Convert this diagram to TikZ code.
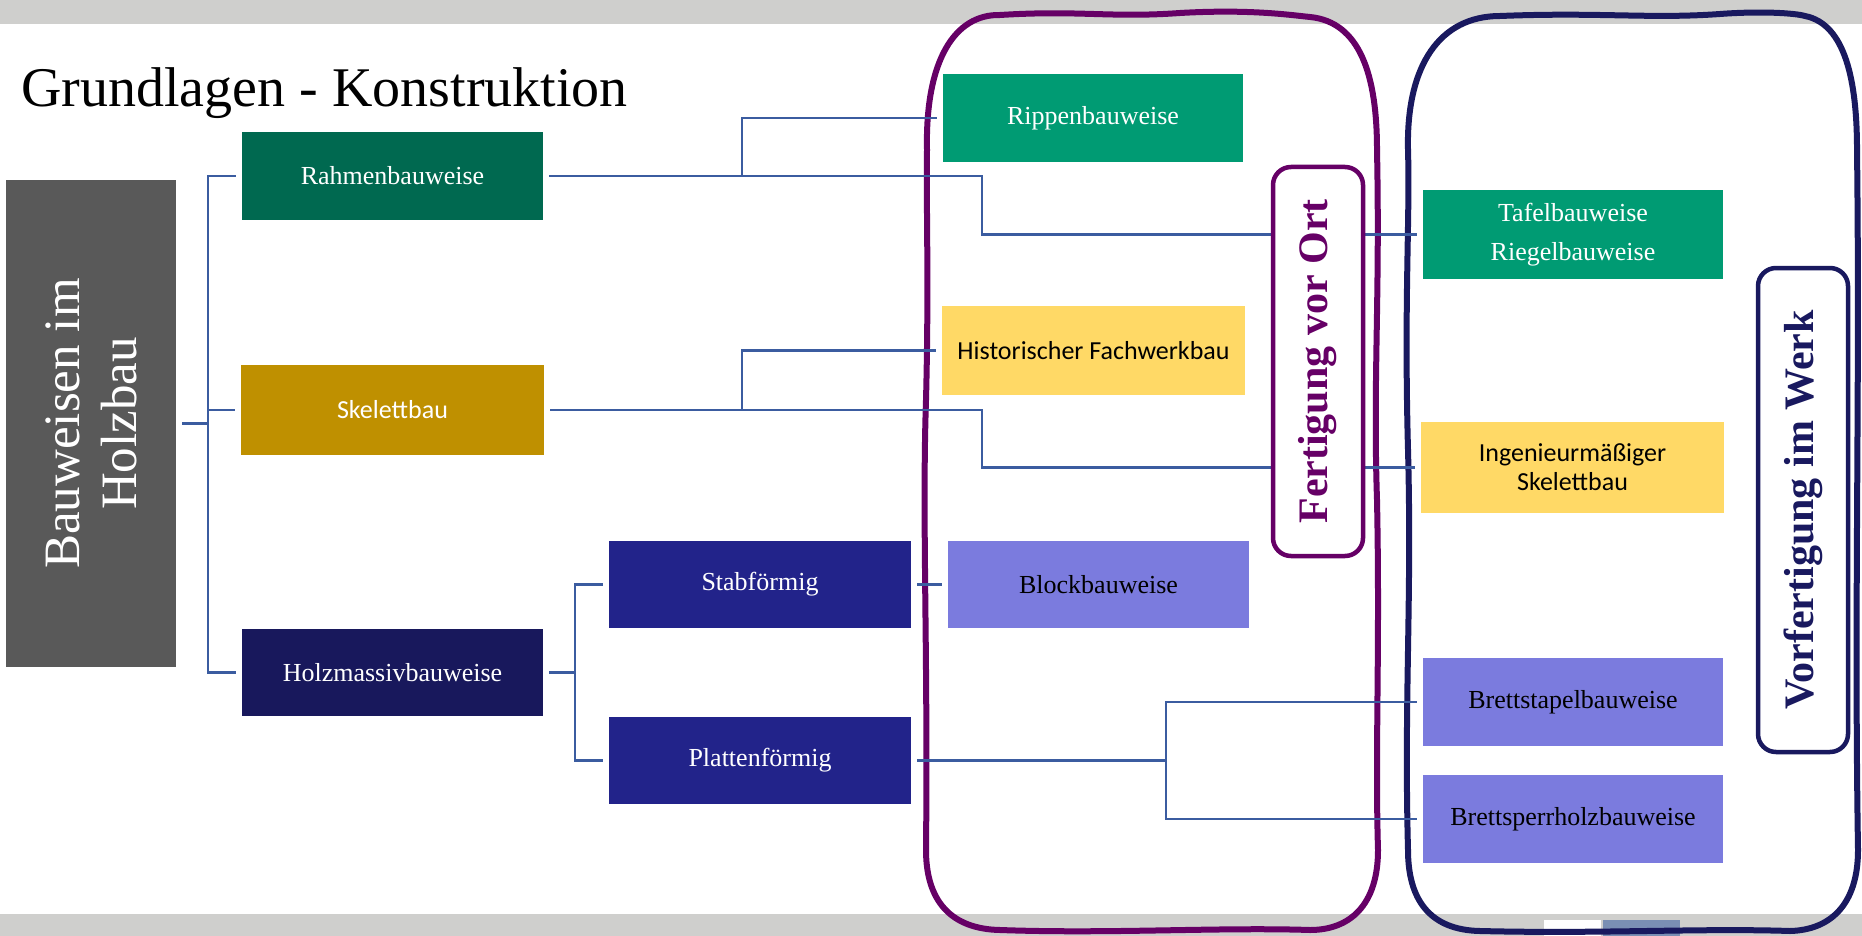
\documentclass[tikz,border=0pt]{standalone}
\usepackage{fontspec}
\setmainfont{Liberation Serif}
\newfontfamily\calib{Carlito}
\usetikzlibrary{calc}
\definecolor{bandgray}{RGB}{207,207,205}
\definecolor{cGray}{RGB}{89,89,89}
\definecolor{cDGreen}{RGB}{0,105,80}
\definecolor{cGreen}{RGB}{0,155,115}
\definecolor{cGold}{RGB}{191,144,0}
\definecolor{cYellow}{RGB}{255,217,102}
\definecolor{cNavy}{RGB}{24,24,92}
\definecolor{cBlue}{RGB}{34,35,138}
\definecolor{cLav}{RGB}{123,123,222}
\definecolor{connc}{RGB}{59,92,160}
\definecolor{cPurple}{RGB}{102,0,102}
\definecolor{cFrameNavy}{RGB}{25,25,95}
\definecolor{cSlate}{RGB}{122,143,180}
\begin{document}
\begin{tikzpicture}[x=1pt,y=-1pt,
  box/.style={rectangle, inner sep=0pt, minimum width=301pt, minimum height=88pt, align=center, font=\fontsize{26}{30}\selectfont},
  sbox/.style={box, font=\calib\fontsize{26}{29}\selectfont},
  conn/.style={draw=connc, line width=2.4pt, shorten <=6pt, shorten >=6pt},
  frame/.style={line width=6pt, line join=round, line cap=round},
  lbl/.style={draw, fill=white, line width=4.5pt, rounded corners=18pt, inner sep=0pt, minimum height=90pt, rotate=90, font=\fontsize{42}{48}\selectfont\bfseries}
]
% background and bands
\fill[white] (0,0) rectangle (1862,936);
\useasboundingbox (0,0) rectangle (1862,936);
\fill[bandgray] (0,0) rectangle (1862,24);
\fill[bandgray] (0,914) rectangle (1862,936);
\fill[white] (1544,920) rectangle (1601,936);
\fill[cSlate] (1603,920) rectangle (1680,936);

% title
\node[anchor=base west, inner sep=0pt, font=\fontsize{56}{60}\selectfont] (title) at (21,107) {Grundlagen - Konstruktion};

% frames
\draw[frame, draw=cPurple]
  (927,150) .. controls (925,60) and (955,14) .. (1000,15)
  .. controls (1080,10) and (1110,18) .. (1180,13)
  .. controls (1250,9) and (1290,15) .. (1310,17)
  .. controls (1360,22) and (1377,75) .. (1377,150)
  .. controls (1380,300) and (1373,380) .. (1377,500)
  .. controls (1380,650) and (1375,750) .. (1378,850)
  .. controls (1378,905) and (1350,930) .. (1310,930)
  .. controls (1220,927) and (1110,934) .. (1000,930)
  .. controls (950,929) and (926,900) .. (926,850)
  .. controls (928,650) and (922,520) .. (926,400)
  .. controls (929,280) and (926,200) .. (927,150) -- cycle;
\draw[frame, draw=cFrameNavy]
  (1408,150) .. controls (1406,65) and (1440,16) .. (1500,16)
  .. controls (1600,12) and (1650,19) .. (1720,14)
  .. controls (1760,11) and (1795,13) .. (1805,16)
  .. controls (1845,24) and (1857,80) .. (1857,150)
  .. controls (1860,400) and (1854,600) .. (1858,850)
  .. controls (1858,905) and (1830,930) .. (1790,931)
  .. controls (1700,928) and (1600,934) .. (1480,931)
  .. controls (1430,930) and (1408,900) .. (1408,850)
  .. controls (1404,700) and (1412,600) .. (1408,450)
  .. controls (1404,300) and (1410,220) .. (1408,150) -- cycle;

% boxes
\node[box, rotate=90, fill=cGray, text=white, minimum width=487pt, minimum height=170pt, font=\fontsize{51}{57}\selectfont] (bau) at (91,423.5) {Bauweisen im\\Holzbau};
\node[box, fill=cDGreen, text=white] (rahmen) at (392.5,176) {Rahmenbauweise};
\node[sbox, fill=cGold, text=white, minimum width=303pt, minimum height=90pt] (skelett) at (392.5,410) {Skelettbau};
\node[box, fill=cNavy, text=white, minimum height=87pt] (holz) at (392.5,672.5) {Holzmassivbauweise};
\node[box, fill=cBlue, text=white, minimum width=302pt, minimum height=87pt] (stab) at (760,584.5) {Stabförmig};
\node[box, fill=cBlue, text=white, minimum width=302pt, minimum height=87pt] (platten) at (760,760.5) {Plattenförmig};
\node[box, fill=cGreen, text=white, minimum width=300pt] (rippen) at (1093,118) {Rippenbauweise};
\node[sbox, fill=cYellow, text=black, minimum width=303pt, minimum height=89pt] (hist) at (1093.5,350.5) {Historischer Fachwerkbau};
\node[box, fill=cLav, text=black, minimum height=87pt] (block) at (1098.5,584.5) {Blockbauweise};
\node[box, fill=cGreen, text=white, minimum width=300pt, minimum height=89pt, font=\fontsize{26}{39}\selectfont] (tafel) at (1573,234.5) {Tafelbauweise\\Riegelbauweise};
\node[sbox, fill=cYellow, text=black, minimum width=303pt, minimum height=91pt] (ing) at (1572.5,467.5) {Ingenieurmäßiger\\Skelettbau};
\node[box, fill=cLav, text=black, minimum width=300pt] (bstap) at (1573,702) {Brettstapelbauweise};
\node[box, fill=cLav, text=black, minimum width=300pt] (bsperr) at (1573,819) {Brettsperrholzbauweise};

% bus coordinates
\coordinate (b1) at (208,0);
\coordinate (b2) at (742,0);
\coordinate (b3) at (982,0);
\coordinate (b4) at (575,0);
\coordinate (b5) at (1166,0);

% connectors
\draw[conn] (bau.south) -- (b1 |- bau.south) |- (rahmen.west);
\draw[conn] (bau.south) -- (b1 |- bau.south) |- (skelett.west);
\draw[conn] (bau.south) -- (b1 |- bau.south) |- (holz.west);
\draw[conn] (rahmen.east) -- (b2 |- rahmen.east) |- (rippen.west);
\draw[conn] (rahmen.east) -- (b3 |- rahmen.east) |- (tafel.west);
\draw[conn] (skelett.east) -- (b2 |- skelett.east) |- (hist.west);
\draw[conn] (skelett.east) -- (b3 |- skelett.east) |- (ing.west);
\draw[conn] (holz.east) -- (b4 |- holz.east) |- (stab.west);
\draw[conn] (holz.east) -- (b4 |- holz.east) |- (platten.west);
\draw[conn] (stab.east) -- (block.west);
\draw[conn] (platten.east) -- (b5 |- platten.east) |- (bstap.west);
\draw[conn] (platten.east) -- (b5 |- platten.east) |- (bsperr.west);

% labels
\node[lbl, draw=cPurple, text=cPurple, minimum width=389pt] (ort) at (1318,361.5) {Fertigung vor Ort};
\node[lbl, draw=cFrameNavy, text=cFrameNavy, minimum width=484pt] (werk) at (1803,510) {Vorfertigung im Werk};
\end{tikzpicture}
\end{document}
